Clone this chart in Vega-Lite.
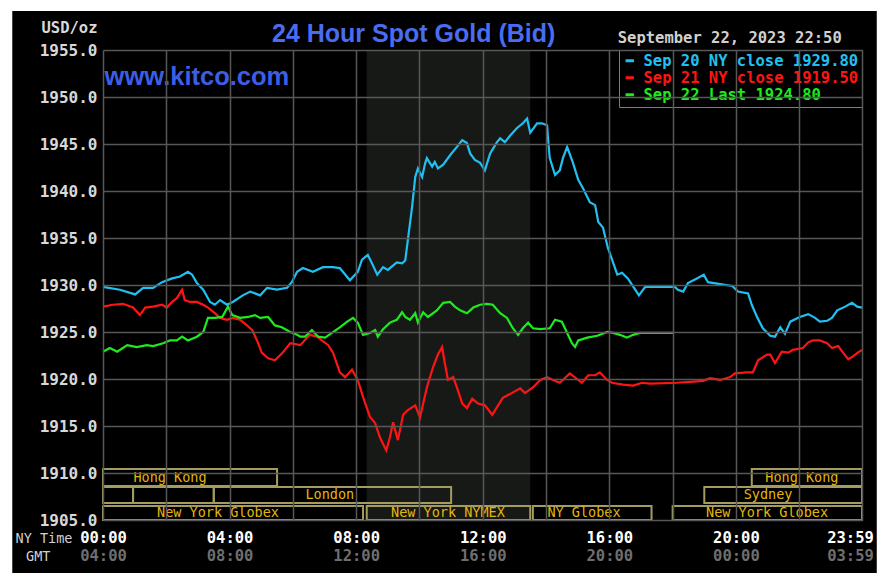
{
  "$schema": "https://vega.github.io/schema/vega-lite/v6.json",
  "width": 759,
  "height": 470,
  "autosize": {"type": "none"},
  "padding": {"left": 103, "top": 50, "right": 25, "bottom": 67},
  "background": "white",
  "config": {"view": {"stroke": null}},
  "title": {"text": "24 Hour Spot Gold (Bid)", "anchor": "start", "frame": "group", "dx": 169, "dy": 39, "offset": 3, "font": "Liberation Sans", "fontSize": 25, "fontWeight": "bold", "color": "#4a6cf0"},
  "datasets": {
    "sep20": [{"t":0,"p":1929.8},{"t":32,"p":1929.5},{"t":61,"p":1929.0},{"t":76,"p":1929.7},{"t":95,"p":1929.7},{"t":112,"p":1930.3},{"t":131,"p":1930.7},{"t":146,"p":1930.9},{"t":161,"p":1931.4},{"t":169,"p":1931.1},{"t":178,"p":1930.2},{"t":190,"p":1929.5},{"t":203,"p":1928.2},{"t":212,"p":1927.9},{"t":222,"p":1928.4},{"t":235,"p":1927.9},{"t":246,"p":1928.2},{"t":265,"p":1928.9},{"t":279,"p":1929.3},{"t":298,"p":1928.9},{"t":311,"p":1929.7},{"t":330,"p":1929.5},{"t":349,"p":1929.7},{"t":358,"p":1930.3},{"t":368,"p":1931.4},{"t":379,"p":1931.8},{"t":398,"p":1931.4},{"t":417,"p":1931.9},{"t":436,"p":1931.9},{"t":449,"p":1931.8},{"t":468,"p":1930.5},{"t":483,"p":1931.4},{"t":491,"p":1932.7},{"t":502,"p":1933.2},{"t":510,"p":1932.3},{"t":520,"p":1931.1},{"t":531,"p":1931.9},{"t":540,"p":1931.6},{"t":557,"p":1932.4},{"t":567,"p":1932.3},{"t":573,"p":1932.6},{"t":578,"p":1934.8},{"t":586,"p":1938.3},{"t":592,"p":1941.5},{"t":597,"p":1942.4},{"t":605,"p":1941.5},{"t":611,"p":1943.0},{"t":614,"p":1943.5},{"t":624,"p":1942.6},{"t":629,"p":1943.1},{"t":635,"p":1942.4},{"t":645,"p":1942.8},{"t":658,"p":1943.8},{"t":671,"p":1944.7},{"t":681,"p":1945.4},{"t":690,"p":1945.1},{"t":696,"p":1944.0},{"t":705,"p":1943.3},{"t":715,"p":1943.0},{"t":724,"p":1942.2},{"t":734,"p":1944.0},{"t":747,"p":1945.2},{"t":753,"p":1945.6},{"t":762,"p":1945.2},{"t":772,"p":1945.9},{"t":785,"p":1946.7},{"t":796,"p":1947.2},{"t":804,"p":1947.7},{"t":810,"p":1946.2},{"t":823,"p":1947.2},{"t":832,"p":1947.2},{"t":842,"p":1947.0},{"t":844,"p":1945.4},{"t":847,"p":1943.5},{"t":857,"p":1941.7},{"t":866,"p":1942.2},{"t":872,"p":1943.5},{"t":880,"p":1944.7},{"t":891,"p":1943.0},{"t":901,"p":1941.2},{"t":910,"p":1940.3},{"t":923,"p":1938.8},{"t":933,"p":1938.5},{"t":939,"p":1936.7},{"t":948,"p":1936.1},{"t":957,"p":1934.0},{"t":967,"p":1932.4},{"t":975,"p":1931.1},{"t":984,"p":1931.3},{"t":995,"p":1930.7},{"t":1009,"p":1929.5},{"t":1016,"p":1928.9},{"t":1028,"p":1929.8},{"t":1084,"p":1929.8},{"t":1090,"p":1929.5},{"t":1100,"p":1929.3},{"t":1109,"p":1930.2},{"t":1126,"p":1930.7},{"t":1139,"p":1931.1},{"t":1147,"p":1930.3},{"t":1170,"p":1930.1},{"t":1193,"p":1929.9},{"t":1204,"p":1929.3},{"t":1223,"p":1929.1},{"t":1230,"p":1927.9},{"t":1240,"p":1926.6},{"t":1251,"p":1925.4},{"t":1265,"p":1924.6},{"t":1274,"p":1924.5},{"t":1284,"p":1925.5},{"t":1293,"p":1924.8},{"t":1303,"p":1926.1},{"t":1321,"p":1926.6},{"t":1337,"p":1926.9},{"t":1350,"p":1926.5},{"t":1359,"p":1926.1},{"t":1373,"p":1926.2},{"t":1382,"p":1926.5},{"t":1392,"p":1927.3},{"t":1407,"p":1927.7},{"t":1420,"p":1928.1},{"t":1430,"p":1927.7},{"t":1439,"p":1927.6}],
    "sep21": [{"t":0,"p":1927.7},{"t":19,"p":1927.9},{"t":38,"p":1928.0},{"t":57,"p":1927.6},{"t":70,"p":1926.8},{"t":80,"p":1927.6},{"t":95,"p":1927.7},{"t":112,"p":1927.9},{"t":121,"p":1927.6},{"t":131,"p":1928.2},{"t":140,"p":1928.6},{"t":150,"p":1929.5},{"t":155,"p":1928.4},{"t":165,"p":1928.2},{"t":178,"p":1928.2},{"t":190,"p":1927.9},{"t":199,"p":1927.6},{"t":212,"p":1927.0},{"t":222,"p":1926.5},{"t":235,"p":1926.3},{"t":246,"p":1926.5},{"t":260,"p":1926.3},{"t":273,"p":1925.7},{"t":283,"p":1925.2},{"t":292,"p":1924.1},{"t":301,"p":1922.8},{"t":313,"p":1922.2},{"t":326,"p":1922.0},{"t":339,"p":1922.7},{"t":355,"p":1923.8},{"t":374,"p":1923.6},{"t":392,"p":1924.7},{"t":406,"p":1924.5},{"t":415,"p":1924.1},{"t":427,"p":1923.6},{"t":436,"p":1922.8},{"t":449,"p":1920.7},{"t":459,"p":1920.2},{"t":472,"p":1921.0},{"t":483,"p":1919.9},{"t":493,"p":1918.1},{"t":506,"p":1916.0},{"t":516,"p":1915.3},{"t":525,"p":1913.8},{"t":537,"p":1912.4},{"t":544,"p":1913.8},{"t":550,"p":1915.4},{"t":559,"p":1913.5},{"t":569,"p":1916.2},{"t":578,"p":1916.7},{"t":592,"p":1917.2},{"t":601,"p":1915.9},{"t":614,"p":1919.1},{"t":626,"p":1921.3},{"t":635,"p":1922.6},{"t":643,"p":1923.4},{"t":648,"p":1921.7},{"t":654,"p":1919.9},{"t":664,"p":1920.2},{"t":671,"p":1919.1},{"t":681,"p":1917.4},{"t":690,"p":1916.9},{"t":700,"p":1917.9},{"t":711,"p":1917.4},{"t":724,"p":1917.2},{"t":738,"p":1916.2},{"t":747,"p":1917.0},{"t":758,"p":1918.0},{"t":775,"p":1918.5},{"t":791,"p":1919.0},{"t":800,"p":1918.5},{"t":815,"p":1919.1},{"t":829,"p":1919.9},{"t":842,"p":1920.2},{"t":853,"p":1919.9},{"t":866,"p":1919.6},{"t":885,"p":1920.6},{"t":908,"p":1919.6},{"t":920,"p":1920.4},{"t":933,"p":1920.4},{"t":942,"p":1920.7},{"t":956,"p":1919.9},{"t":965,"p":1919.6},{"t":986,"p":1919.4},{"t":1005,"p":1919.3},{"t":1022,"p":1919.6},{"t":1037,"p":1919.5},{"t":1088,"p":1919.6},{"t":1113,"p":1919.7},{"t":1138,"p":1919.8},{"t":1151,"p":1920.1},{"t":1170,"p":1919.9},{"t":1189,"p":1920.2},{"t":1198,"p":1920.6},{"t":1221,"p":1920.7},{"t":1232,"p":1920.7},{"t":1242,"p":1922.0},{"t":1259,"p":1922.6},{"t":1265,"p":1922.6},{"t":1274,"p":1921.7},{"t":1287,"p":1922.9},{"t":1299,"p":1922.8},{"t":1308,"p":1923.1},{"t":1327,"p":1923.3},{"t":1337,"p":1923.9},{"t":1346,"p":1924.1},{"t":1359,"p":1924.1},{"t":1373,"p":1923.8},{"t":1382,"p":1923.3},{"t":1394,"p":1923.5},{"t":1403,"p":1922.8},{"t":1413,"p":1922.1},{"t":1422,"p":1922.4},{"t":1431,"p":1922.8},{"t":1439,"p":1923.1}],
    "sep22": [{"t":0,"p":1922.9},{"t":13,"p":1923.3},{"t":27,"p":1922.9},{"t":46,"p":1923.6},{"t":64,"p":1923.4},{"t":83,"p":1923.6},{"t":95,"p":1923.5},{"t":114,"p":1923.8},{"t":127,"p":1924.1},{"t":140,"p":1924.1},{"t":150,"p":1924.5},{"t":161,"p":1924.1},{"t":178,"p":1924.5},{"t":190,"p":1925.0},{"t":199,"p":1926.5},{"t":212,"p":1926.5},{"t":226,"p":1926.6},{"t":237,"p":1927.7},{"t":245,"p":1926.8},{"t":260,"p":1926.5},{"t":275,"p":1926.6},{"t":288,"p":1926.8},{"t":298,"p":1926.5},{"t":313,"p":1926.6},{"t":326,"p":1925.7},{"t":339,"p":1925.5},{"t":355,"p":1925.0},{"t":368,"p":1924.7},{"t":374,"p":1924.5},{"t":383,"p":1924.5},{"t":396,"p":1925.2},{"t":408,"p":1924.5},{"t":421,"p":1924.4},{"t":434,"p":1924.9},{"t":449,"p":1925.5},{"t":463,"p":1926.1},{"t":474,"p":1926.5},{"t":483,"p":1926.0},{"t":493,"p":1924.7},{"t":506,"p":1924.9},{"t":516,"p":1925.2},{"t":521,"p":1924.5},{"t":531,"p":1925.3},{"t":544,"p":1926.0},{"t":557,"p":1926.3},{"t":567,"p":1927.1},{"t":573,"p":1926.6},{"t":582,"p":1926.3},{"t":592,"p":1927.0},{"t":597,"p":1926.0},{"t":607,"p":1927.1},{"t":616,"p":1926.6},{"t":633,"p":1927.3},{"t":645,"p":1928.1},{"t":658,"p":1928.2},{"t":667,"p":1927.7},{"t":677,"p":1927.3},{"t":690,"p":1927.0},{"t":702,"p":1927.6},{"t":715,"p":1927.9},{"t":728,"p":1928.0},{"t":739,"p":1927.9},{"t":753,"p":1927.0},{"t":766,"p":1926.5},{"t":777,"p":1925.4},{"t":787,"p":1924.7},{"t":796,"p":1925.4},{"t":806,"p":1926.0},{"t":815,"p":1925.4},{"t":829,"p":1925.3},{"t":847,"p":1925.4},{"t":857,"p":1926.3},{"t":870,"p":1926.1},{"t":880,"p":1924.9},{"t":889,"p":1923.8},{"t":895,"p":1923.4},{"t":901,"p":1924.1},{"t":918,"p":1924.4},{"t":937,"p":1924.6},{"t":956,"p":1925.0},{"t":967,"p":1924.9},{"t":980,"p":1924.7},{"t":993,"p":1924.4},{"t":1005,"p":1924.7},{"t":1018,"p":1924.9},{"t":1081,"p":1924.9}],
    "sessions": [
      {"label":"Hong Kong","start":0,"end":330,"top":1910.43,"bottom":1908.62,"mid":127,"ty":1909.5},
      {"label":"Hong Kong","start":1230,"end":1439,"top":1910.43,"bottom":1908.62,"mid":1325,"ty":1909.5},
      {"label":"","start":0,"end":57,"top":1908.51,"bottom":1906.81,"mid":28,"ty":1907.65},
      {"label":"","start":57,"end":210,"top":1908.51,"bottom":1906.81,"mid":133,"ty":1907.65},
      {"label":"London","start":210,"end":660,"top":1908.51,"bottom":1906.81,"mid":430,"ty":1907.65},
      {"label":"Sydney","start":1140,"end":1439,"top":1908.51,"bottom":1906.81,"mid":1261,"ty":1907.65},
      {"label":"New York Globex","start":0,"end":493,"top":1906.49,"bottom":1905.0,"mid":218,"ty":1905.75},
      {"label":"New York NYMEX","start":500,"end":810,"top":1906.49,"bottom":1905.0,"mid":654,"ty":1905.75},
      {"label":"NY Globex","start":815,"end":1040,"top":1906.49,"bottom":1905.0,"mid":912,"ty":1905.75},
      {"label":"New York Globex","start":1080,"end":1439,"top":1906.49,"bottom":1905.0,"mid":1259,"ty":1905.75}
    ]
  },
  "layer": [
    {
      "data": {"values": [{}]},
      "mark": {"type": "rect", "color": "#000000"},
      "encoding": {
        "x": {"datum": -172, "type": "quantitative", "scale": {"domain": [0, 1439], "nice": false, "zero": false}, "axis": null},
        "x2": {"datum": 1467},
        "y": {"datum": 1959.15, "type": "quantitative", "scale": {"domain": [1905, 1955], "nice": false, "zero": false}, "axis": null},
        "y2": {"datum": 1899.36}
      }
    },
    {
      "data": {"values": [{"session": "NYMEX", "open": 500, "close": 810}]},
      "mark": {"type": "rect", "color": "#171917"},
      "encoding": {
        "x": {"field": "open", "type": "quantitative", "scale": {"domain": [0, 1439], "nice": false, "zero": false},
          "axis": {"orient": "bottom", "values": [0, 240, 480, 720, 960, 1200, 1439], "offset": 18, "grid": false, "domain": false, "ticks": false, "labelFlush": false, "labelOverlap": false,
            "labelExpr": "((((floor(datum.value/60)+4)%24) < 10) ? '0' : '') + ((floor(datum.value/60)+4)%24) + ':' + ((datum.value % 60 < 10) ? '0' : '') + (datum.value % 60)",
            "labelColor": "#6e6e6e", "labelFont": "DejaVu Sans Mono", "labelFontSize": 15.5, "labelFontWeight": "bold", "labelPadding": 10,
            "labelOffset": {"condition": {"test": "datum.value == 1439", "value": -12}, "value": 0},
            "title": "GMT", "titleX": -53, "titleY": 18, "titleAlign": "right", "titleBaseline": "middle", "titleFont": "DejaVu Sans Mono", "titleFontSize": 13.5, "titleFontWeight": "normal", "titleColor": "#d0d0d0", "zindex": 1}},
        "x2": {"field": "close"}
      }
    },
    {
      "data": {"name": "sep20"},
      "mark": {"type": "line", "strokeWidth": 2.2},
      "encoding": {
        "x": {"field": "t", "type": "quantitative", "scale": {"domain": [0, 1439], "nice": false, "zero": false},
          "axis": {"orient": "bottom", "values": [0, 120, 240, 360, 480, 600, 720, 840, 960, 1080, 1200, 1320, 1439], "grid": true, "gridColor": "#575757", "gridWidth": 1.5, "domain": false, "ticks": false, "labelFlush": false, "labelOverlap": false,
            "labelExpr": "(datum.value % 240 == 0 || datum.value == 1439) ? (((floor(datum.value/60) < 10) ? '0' : '') + floor(datum.value/60) + ':' + ((datum.value % 60 < 10) ? '0' : '') + (datum.value % 60)) : ''",
            "labelColor": "#ffffff", "labelFont": "DejaVu Sans Mono", "labelFontSize": 15.5, "labelFontWeight": "bold", "labelPadding": 10,
            "labelOffset": {"condition": {"test": "datum.value == 1439", "value": -12}, "value": 0},
            "title": "NY Time", "titleX": -31, "titleY": 18, "titleAlign": "right", "titleBaseline": "middle", "titleFont": "DejaVu Sans Mono", "titleFontSize": 13.5, "titleFontWeight": "normal", "titleColor": "#d0d0d0", "zindex": 1}},
        "y": {"field": "p", "type": "quantitative", "scale": {"domain": [1905, 1955], "nice": false, "zero": false},
          "axis": {"orient": "left", "values": [1905, 1910, 1915, 1920, 1925, 1930, 1935, 1940, 1945, 1950, 1955], "format": ".1f", "grid": true, "gridColor": "#575757", "gridWidth": 1.5, "domain": false, "ticks": false, "labelOverlap": false,
            "labelColor": "#d8d8d8", "labelFont": "DejaVu Sans Mono", "labelFontSize": 16, "labelFontWeight": "bold", "labelPadding": 6,
            "title": "USD/oz", "titleAngle": 0, "titleAlign": "right", "titleBaseline": "middle", "titleX": -6, "titleY": -23, "titleFont": "DejaVu Sans Mono", "titleFontSize": 15.5, "titleFontWeight": "bold", "titleColor": "#d8d8d8", "zindex": 1}},
        "color": {"datum": "Sep 20 NY close 1929.80", "type": "nominal",
          "scale": {"domain": ["Sep 20 NY close 1929.80", "Sep 21 NY close 1919.50", "Sep 22 Last 1924.80"], "range": ["#20c0f2", "#ff1414", "#1eeb1e"]},
          "legend": {"title": null, "orient": "top-right", "offset": 0, "padding": 3, "fillColor": "#000000", "strokeColor": "#7d7d7d", "symbolType": "stroke", "symbolSize": 70, "symbolStrokeWidth": 3, "labelFont": "DejaVu Sans Mono", "labelFontSize": 15.5, "labelFontWeight": "bold", "labelOffset": 6, "rowPadding": 0, "labelLimit": 400,
            "encode": {"labels": {"update": {"fill": {"scale": "color", "field": "value"}}}}}}
      }
    },
    {
      "data": {"name": "sep21"},
      "mark": {"type": "line", "strokeWidth": 2.2},
      "encoding": {
        "x": {"field": "t", "type": "quantitative", "scale": {"domain": [0, 1439], "nice": false, "zero": false}, "axis": null},
        "y": {"field": "p", "type": "quantitative", "scale": {"domain": [1905, 1955], "nice": false, "zero": false}, "axis": null},
        "color": {"datum": "Sep 21 NY close 1919.50", "type": "nominal"}
      }
    },
    {
      "data": {"name": "sep22"},
      "mark": {"type": "line", "strokeWidth": 2.2},
      "encoding": {
        "x": {"field": "t", "type": "quantitative", "scale": {"domain": [0, 1439], "nice": false, "zero": false}, "axis": null},
        "y": {"field": "p", "type": "quantitative", "scale": {"domain": [1905, 1955], "nice": false, "zero": false}, "axis": null},
        "color": {"datum": "Sep 22 Last 1924.80", "type": "nominal"}
      }
    },
    {
      "data": {"name": "sessions"},
      "mark": {"type": "rect", "fill": "#000000", "fillOpacity": 0, "stroke": "#a39c5e", "strokeWidth": 2},
      "encoding": {
        "x": {"field": "start", "type": "quantitative", "scale": {"domain": [0, 1439], "nice": false, "zero": false}, "axis": null},
        "x2": {"field": "end"},
        "y": {"field": "top", "type": "quantitative", "scale": {"domain": [1905, 1955], "nice": false, "zero": false}, "axis": null},
        "y2": {"field": "bottom"}
      }
    },
    {
      "data": {"name": "sessions"},
      "transform": [{"filter": "datum.label != ''"}],
      "mark": {"type": "text", "font": "DejaVu Sans Mono", "fontSize": 13.5, "color": "#e3b70c", "align": "center", "baseline": "middle"},
      "encoding": {
        "x": {"field": "mid", "type": "quantitative", "scale": {"domain": [0, 1439], "nice": false, "zero": false}, "axis": null},
        "y": {"field": "ty", "type": "quantitative", "scale": {"domain": [1905, 1955], "nice": false, "zero": false}, "axis": null},
        "text": {"field": "label"}
      }
    },
    {
      "data": {"values": [{"site": "www.kitco.com"}]},
      "mark": {"type": "text", "font": "Liberation Sans", "fontSize": 25.5, "fontWeight": "bold", "color": "#3b5ee8", "align": "left", "baseline": "middle"},
      "encoding": {
        "x": {"datum": 3, "type": "quantitative", "scale": {"domain": [0, 1439], "nice": false, "zero": false}, "axis": null},
        "y": {"datum": 1952.1, "type": "quantitative", "scale": {"domain": [1905, 1955], "nice": false, "zero": false}, "axis": null},
        "text": {"field": "site"}
      }
    },
    {
      "data": {"values": [{"stamp": "September 22, 2023 22:50"}]},
      "mark": {"type": "text", "font": "DejaVu Sans Mono", "fontSize": 15.5, "fontWeight": "bold", "color": "#d0d0d0", "align": "left", "baseline": "middle"},
      "encoding": {
        "x": {"datum": 976, "type": "quantitative", "scale": {"domain": [0, 1439], "nice": false, "zero": false}, "axis": null},
        "y": {"datum": 1956.3, "type": "quantitative", "scale": {"domain": [1905, 1955], "nice": false, "zero": false}, "axis": null},
        "text": {"field": "stamp"}
      }
    }
  ],
  "resolve": {"axis": {"x": "independent", "y": "independent"}}
}
